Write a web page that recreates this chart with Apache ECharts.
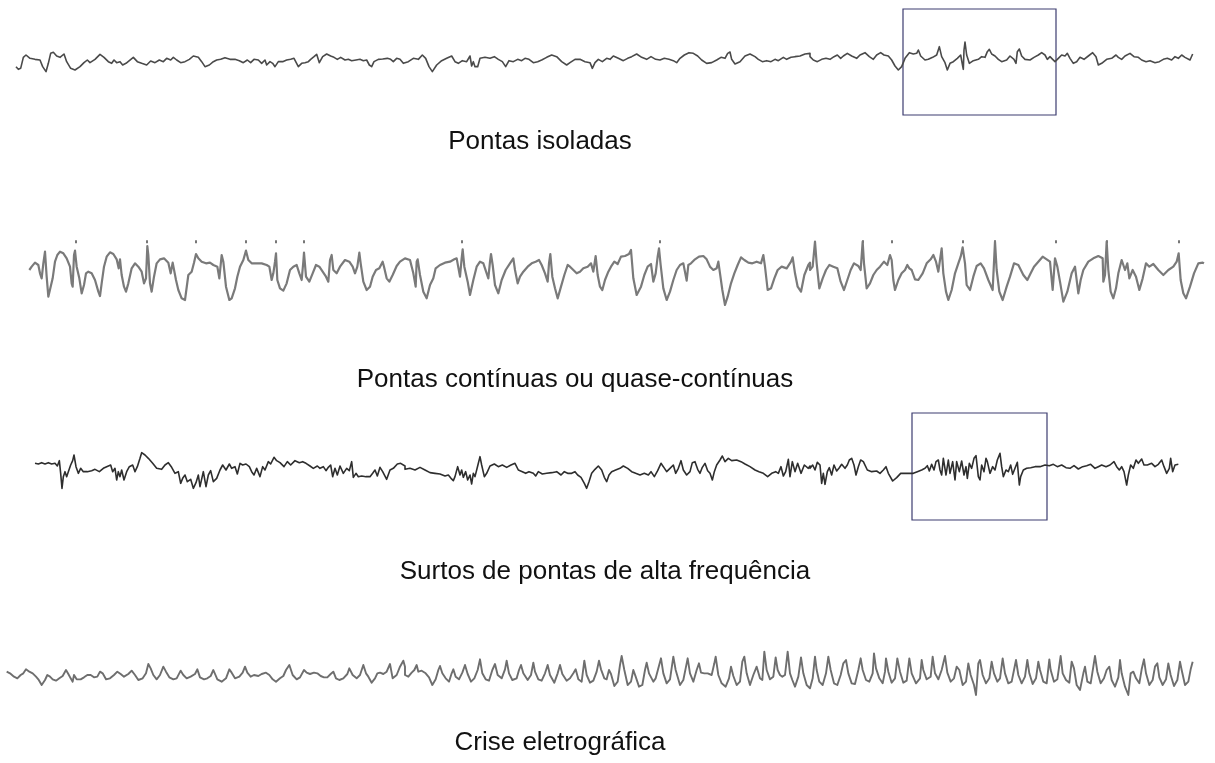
<!DOCTYPE html>
<html>
<head>
<meta charset="utf-8">
<script src="https://cdn.jsdelivr.net/npm/echarts@6/dist/echarts.min.js"></script>
<style>
  html, body { margin: 0; padding: 0; background: #fff; }
  #main { width: 1215px; height: 763px; }
</style>
</head>
<body>
<div id="main"></div>
<script>
// leituras [x, y] de cada trecho do traçado (x em 1/3 px do trecho, y para baixo)
const t1a = [[48,140],[55,148],[62,145],[70,112],[78,105],[90,115],[105,118],[120,120],[128,140],[138,155],[145,130],[152,100],[160,97],[170,108],[180,112],[192,102],[200,125],[212,145],[225,150],[240,140],[252,128],[262,120],[270,128],[285,118],[300,103],[312,112],[325,125],[335,130],[342,120],[350,128],[360,125],[368,135],[378,130],[388,122],[400,112],[412,125],[425,130],[440,135],[452,123],[465,128],[478,120],[490,125],[500,115],[512,120],[520,112],[530,120],[542,128],[555,125],[568,118],[580,108],[595,112],[605,125],[615,140],[628,135],[640,125],[650,120],[662,118],[675,113],[690,118],[705,118],[718,122],[730,128],[742,120],[752,128],[762,118],[775,120],[785,130],[795,120],[800,135],[810,125],[818,130],[825,140],[835,125],[848,125],[860,120],[872,118],[882,115],[895,140],[905,130],[915,128],[925,125],[932,118],[942,110],[950,103],[958,128],[968,110],[980,102],[992,108],[1002,112],[1012,118],[1022,112],[1035,120],[1045,118],[1055,122],[1068,120],[1080,118],[1090,122],[1100,120],[1108,135],[1115,140],[1122,125],[1135,118],[1148,117],[1162,115],[1172,118],[1180,125],[1190,115],[1200,118],[1210,130]];
const t1b = [[0,135],[10,125],[25,115],[40,118],[52,105],[62,115],[72,140],[82,155],[95,135],[110,122],[125,115],[140,108],[150,125],[160,130],[172,122],[185,125],[195,108],[200,138],[205,125],[210,140],[218,140],[225,115],[240,112],[255,115],[268,110],[280,118],[292,125],[302,140],[312,122],[325,125],[338,118],[350,122],[360,115],[372,118],[385,128],[398,125],[410,120],[425,112],[440,105],[455,110],[470,125],[485,135],[495,128],[510,118],[525,118],[540,125],[555,128],[562,145],[570,128],[580,118],[592,125],[605,115],[615,118],[625,108],[640,115],[655,122],[668,115],[680,110],[695,102],[710,112],[725,118],[738,110],[752,118],[765,120],[778,115],[792,118],[805,122],[815,128],[825,115],[838,105],[852,98],[865,100],[878,108],[890,120],[905,130],[920,128],[935,120],[948,112],[960,115],[968,100],[975,96],[980,118],[990,132],[1005,125],[1020,108],[1035,102],[1050,110],[1060,118],[1072,125],[1085,122],[1098,125],[1110,118],[1120,122],[1135,112],[1145,118],[1158,112],[1170,110],[1185,108],[1200,102],[1215,100]];
const t1c = [[0,170],[10,180],[22,185],[35,178],[48,175],[60,178],[72,170],[82,165],[92,175],[100,168],[112,160],[125,168],[140,175],[150,165],[165,158],[178,170],[190,178],[200,165],[212,158],[222,165],[235,168],[245,180],[255,198],[265,210],[275,200],[285,175],[298,158],[310,162],[320,160],[325,150],[332,168],[345,180],[355,178],[368,172],[380,165],[388,140],[395,170],[405,188],[412,210],[420,190],[430,185],[442,175],[452,165],[458,198],[460,208],[462,150],[465,126],[470,165],[478,190],[490,182],[505,178],[515,170],[525,172],[532,155],[538,148],[545,162],[555,168],[565,178],[575,185],[590,180],[600,168],[612,178],[618,190],[622,155],[628,147],[635,168],[645,178],[660,180],[672,172],[685,165],[695,158],[705,165],[712,178],[720,170],[728,178],[735,185],[745,175],[755,165],[765,168],[772,160],[780,175],[790,190],[800,185],[810,172],[822,178],[835,168],[848,158],[858,170],[865,195],[875,190],[890,178],[905,175],[918,165],[925,172],[935,178],[945,168],[960,160],[972,170],[985,172],[995,180],[1008,185],[1020,182],[1035,188],[1048,185],[1060,178],[1072,175],[1085,180],[1095,170],[1105,175],[1115,165],[1125,172],[1140,180],[1148,162]];

const t2a = [[88,150],[95,140],[105,128],[115,135],[120,160],[125,175],[130,130],[135,95],[140,170],[145,230],[150,225],[158,175],[165,125],[172,105],[180,95],[190,100],[200,115],[210,140],[215,190],[218,200],[222,105],[225,92],[230,140],[238,175],[245,220],[252,195],[258,160],[265,155],[275,160],[285,180],[295,215],[300,228],[305,190],[312,140],[320,110],[330,97],[340,102],[350,118],[356,145],[360,118],[365,165],[372,200],[378,215],[385,190],[395,145],[405,130],[415,140],[425,155],[432,190],[438,175],[442,78],[445,105],[450,190],[455,215],[462,170],[470,130],[480,118],[492,115],[505,128],[512,160],[518,128],[522,125],[528,180],[535,210],[545,235],[555,240],[565,165],[575,155],[582,128],[588,102],[595,115],[605,125],[618,130],[630,128],[640,135],[652,140],[658,175],[665,105],[670,125],[678,200],[688,240],[695,235],[705,205],[712,170],[720,140],[730,120],[738,92],[745,120],[755,130],[770,130],[785,130],[800,135],[808,140],[815,180],[820,160],[825,125],[828,100],[832,180],[840,205],[850,212],[860,190],[870,150],[880,140],[890,135],[898,160],[905,180],[910,125],[912,98],[918,170],[928,185],[938,160],[948,135],[958,140],[968,155],[978,170],[985,185],[990,120],[995,105],[1000,150],[1010,160],[1020,140],[1035,120],[1048,125],[1058,140],[1065,160],[1072,140],[1078,98],[1082,130],[1090,185],[1100,210],[1110,200],[1118,170],[1128,150],[1138,145],[1148,125],[1152,140],[1160,175],[1168,185],[1178,165],[1190,138],[1200,125],[1215,115]];
const t2b = [[0,118],[15,120],[25,160],[32,200],[35,125],[38,118],[45,165],[55,215],[65,235],[75,195],[85,175],[92,145],[105,135],[120,128],[135,125],[148,118],[155,115],[165,170],[170,115],[173,88],[178,140],[188,185],[195,225],[205,180],[215,140],[225,125],[235,130],[245,160],[250,175],[255,125],[258,102],[263,135],[270,195],[280,220],[290,180],[302,150],[315,130],[325,115],[330,150],[338,190],[345,170],[355,155],[368,140],[380,130],[392,125],[402,120],[410,135],[420,160],[428,185],[432,130],[436,102],[442,170],[450,205],[458,235],[468,200],[478,165],[488,135],[495,140],[505,150],[515,160],[525,155],[535,145],[548,140],[558,130],[565,155],[572,108],[578,165],[585,200],[592,210],[600,180],[610,155],[618,140],[628,125],[638,132],[648,110],[660,108],[672,102],[678,90],[685,175],[695,225],[708,200],[718,165],[728,140],[738,132],[745,185],[752,160],[758,110],[762,85],[767,135],[775,205],[785,240],[795,215],[805,180],[815,150],[825,135],[835,130],[845,182],[850,135],[858,130],[870,118],[882,110],[895,108],[905,118],[915,140],[925,150],[935,145],[940,125],[945,160],[952,210],[960,255],[968,230],[978,190],[988,160],[998,135],[1008,112],[1018,120],[1030,128],[1042,130],[1055,125],[1068,130],[1075,105],[1080,140],[1088,210],[1098,205],[1108,175],[1118,150],[1130,140],[1145,145],[1158,125],[1163,112],[1170,160],[1178,200],[1188,215],[1198,165],[1210,135],[1215,128]];
const t2c = [[0,150],[8,140],[15,65],[20,130],[28,205],[38,175],[48,150],[58,135],[70,140],[82,145],[92,185],[102,210],[112,180],[122,150],[132,130],[145,138],[152,150],[158,65],[162,130],[170,205],[180,190],[190,165],[200,150],[210,140],[222,125],[232,135],[240,105],[245,120],[250,180],[255,210],[265,180],[275,160],[285,150],[292,135],[298,145],[305,150],[315,178],[325,180],[338,160],[350,130],[362,118],[370,105],[378,125],[385,155],[395,85],[400,160],[408,215],[415,240],[425,210],[435,160],[445,130],[452,110],[458,82],[465,130],[470,195],[480,210],[490,170],[500,138],[512,130],[522,145],[535,180],[548,210],[555,65],[560,150],[568,215],[578,240],[590,200],[600,170],[612,130],[625,135],[640,165],[652,180],[662,160],[672,140],[685,125],[698,110],[710,118],[720,125],[728,210],[735,115],[742,140],[750,185],[760,245],[772,215],[785,160],[795,140],[805,220],[812,180],[820,150],[835,125],[850,115],[865,108],[878,115],[880,185],[885,165],[890,65],[895,150],[902,215],[910,235],[918,205],[925,160],[935,120],[945,150],[952,130],[958,175],[968,150],[978,170],[988,210],[998,175],[1008,130],[1018,140],[1030,132],[1045,150],[1060,165],[1075,150],[1090,140],[1100,125],[1106,100],[1112,180],[1120,220],[1128,235],[1140,200],[1152,160],[1165,130],[1178,128],[1182,130]];

const t3a = [[105,70],[115,72],[125,68],[135,72],[145,68],[155,72],[165,70],[172,78],[178,62],[182,100],[186,145],[190,110],[195,95],[200,110],[205,95],[212,75],[218,62],[222,45],[228,80],[235,100],[242,85],[250,95],[262,95],[275,92],[285,88],[298,95],[310,85],[320,80],[332,75],[338,95],[345,85],[350,120],[355,95],[360,110],[365,90],[372,120],[380,95],[388,80],[398,75],[405,95],[412,80],[420,55],[425,38],[435,45],[445,55],[458,70],[470,85],[485,88],[495,75],[505,68],[515,82],[525,100],[535,95],[542,130],[548,115],[555,105],[562,125],[572,118],[580,145],[588,128],[595,105],[600,140],[610,95],[618,140],[625,105],[632,92],[640,125],[650,115],[660,90],[668,75],[678,90],[688,72],[695,85],[705,80],[712,102],[720,70],[728,75],[738,72],[748,80],[755,95],[762,105],[770,85],[780,110],[788,80],[795,90],[805,65],[812,72],[822,52],[830,62],[840,68],[852,80],[862,65],[872,75],[885,62],[898,68],[908,65],[918,70],[930,78],[940,85],[952,78],[960,85],[970,80],[978,92],[985,82],[992,75],[998,110],[1005,85],[1012,105],[1020,78],[1030,100],[1040,85],[1048,92],[1055,65],[1060,112],[1068,100],[1075,110],[1085,108],[1098,110],[1110,110],[1118,100],[1125,90],[1132,108],[1140,82],[1148,95],[1160,118],[1170,90],[1180,85],[1192,72],[1202,70],[1215,78]];
const t3b = [[0,88],[15,85],[30,90],[45,82],[60,90],[75,98],[90,100],[105,102],[120,108],[130,105],[138,115],[145,122],[150,110],[158,80],[165,105],[170,90],[175,112],[182,95],[188,120],[195,105],[200,132],[205,100],[210,110],[218,78],[225,50],[230,75],[238,110],[245,100],[255,78],[268,72],[280,80],[292,75],[305,82],[318,75],[330,70],[340,90],[352,95],[362,100],[372,95],[385,100],[392,108],[400,95],[412,102],[425,100],[440,98],[455,95],[468,105],[478,95],[488,100],[500,100],[510,95],[518,105],[528,112],[538,130],[545,145],[552,125],[560,100],[570,88],[580,78],[590,90],[598,112],[605,125],[612,105],[620,95],[632,90],[645,85],[655,78],[668,85],[680,95],[692,100],[705,105],[718,100],[730,105],[738,95],[748,110],[758,92],[768,70],[775,80],[785,95],[795,85],[805,75],[812,100],[820,85],[828,62],[835,90],[845,105],[855,95],[862,68],[870,65],[878,88],[885,100],[892,82],[900,70],[908,92],[915,100],[922,120],[928,95],[935,75],[945,60],[952,48],[960,65],[970,55],[980,62],[995,60],[1008,65],[1020,72],[1035,80],[1050,90],[1062,95],[1075,100],[1088,110],[1100,100],[1112,95],[1120,100],[1128,80],[1135,108],[1142,95],[1150,58],[1155,110],[1162,65],[1170,95],[1178,70],[1188,100],[1198,75],[1210,85],[1215,78]];
const t3c = [[0,190],[8,180],[15,195],[22,172],[30,180],[35,235],[40,205],[45,238],[52,200],[58,188],[65,210],[72,180],[80,198],[88,188],[95,178],[105,190],[112,180],[118,165],[125,160],[132,180],[138,210],[145,185],[152,165],[160,170],[172,195],[185,200],[200,198],[210,205],[220,195],[228,185],[235,205],[248,228],[260,218],[272,205],[285,205],[298,205],[310,205],[322,200],[335,195],[345,190],[352,182],[358,198],[365,178],[372,195],[378,170],[385,165],[390,195],[395,210],[400,160],[408,210],[415,165],[420,205],[428,170],[435,225],[440,170],[448,200],[455,168],[462,210],[468,185],[472,220],[478,175],[485,190],[492,160],[498,152],[505,215],[510,225],[515,180],[522,200],[528,160],[532,170],[540,205],[548,185],[555,195],[562,165],[570,145],[575,185],[580,215],[588,195],[595,200],[602,180],[608,208],[615,190],[622,172],[628,240],[632,215],[640,195],[650,190],[662,188],[675,185],[690,185],[705,180],[718,182],[730,178],[742,185],[755,180],[768,188],[780,190],[792,182],[805,192],[818,185],[830,182],[842,178],[855,190],[865,185],[875,180],[888,185],[900,180],[912,170],[920,185],[928,195],[935,185],[942,200],[950,240],[955,210],[962,180],[970,190],[978,165],[985,175],[995,162],[1002,180],[1012,180],[1025,175],[1035,185],[1045,178],[1055,165],[1062,185],[1070,205],[1078,190],[1082,160],[1088,200],[1095,180],[1105,178]];

const t4a = [[20,155],[30,160],[42,170],[52,175],[62,165],[70,160],[78,148],[88,155],[98,160],[108,170],[115,178],[125,195],[135,180],[142,165],[150,170],[158,178],[168,182],[178,175],[188,168],[198,150],[205,162],[212,175],[218,185],[222,165],[230,178],[242,178],[252,172],[262,165],[272,165],[282,172],[292,170],[300,155],[308,160],[318,178],[330,175],[342,165],[352,155],[362,162],[372,170],[385,162],[395,152],[405,165],[415,180],[428,175],[438,160],[445,132],[452,145],[460,165],[470,178],[480,165],[490,140],[498,155],[508,172],[520,178],[530,175],[542,152],[550,165],[560,175],[572,170],[585,162],[592,148],[600,172],[612,178],[622,175],[632,168],[640,150],[652,178],[665,185],[678,175],[688,148],[695,158],[705,175],[718,170],[728,158],[735,140],[742,158],[752,170],[762,165],[775,168],[785,162],[798,158],[808,165],[818,178],[828,185],[840,175],[850,168],[858,150],[868,135],[878,165],[890,178],[900,172],[912,150],[920,158],[930,162],[942,158],[952,160],[962,168],[972,172],[982,172],[992,162],[1000,155],[1008,175],[1018,180],[1030,175],[1042,162],[1048,145],[1058,165],[1070,175],[1080,165],[1090,135],[1098,160],[1105,170],[1115,188],[1125,175],[1132,160],[1140,158],[1150,162],[1160,155],[1170,132],[1178,175],[1190,165],[1200,140],[1210,122],[1215,140]];
const t4b = [[0,165],[10,170],[20,158],[28,150],[35,135],[40,155],[50,152],[62,160],[72,172],[82,195],[92,178],[100,150],[105,138],[112,160],[122,175],[132,185],[140,160],[145,148],[152,170],[162,178],[172,158],[180,135],[188,162],[198,185],[208,175],[218,150],[225,118],[232,160],[242,178],[252,182],[262,150],[270,132],[278,165],[290,175],[300,148],[305,122],[312,160],[322,180],[335,175],[342,150],[348,135],[355,160],[368,180],[378,165],[385,128],[390,155],[400,178],[410,182],[420,160],[428,135],[435,165],[448,188],[458,160],[465,135],[472,162],[485,182],[495,175],[505,160],[512,148],[520,178],[530,185],[538,122],[545,165],[555,188],[565,182],[575,155],[582,122],[588,148],[598,175],[605,178],[612,150],[618,162],[628,198],[638,185],[645,135],[650,108],[658,150],[668,195],[678,185],[685,150],[692,170],[702,200],[712,195],[720,150],[725,128],[732,160],[745,185],[752,175],[760,145],[768,115],[775,160],[785,190],[795,178],[805,110],[812,150],[825,195],[835,180],[842,145],[848,115],[855,160],[865,185],[875,150],[882,130],[888,158],[898,160],[908,160],[920,165],[928,130],[932,110],[940,165],[950,190],[962,200],[972,175],[978,140],[985,168],[995,195],[1005,185],[1012,125],[1018,110],[1025,160],[1035,195],[1045,165],[1055,140],[1065,175],[1072,180],[1078,95],[1085,150],[1095,178],[1105,170],[1112,112],[1118,150],[1125,165],[1132,170],[1140,165],[1148,95],[1155,160],[1162,180],[1170,200],[1180,170],[1188,112],[1195,160],[1205,195],[1215,205]];
const t4c = [[0,205],[8,175],[15,110],[20,150],[28,185],[38,195],[48,160],[55,110],[62,150],[72,190],[82,195],[92,165],[100,130],[108,120],[115,160],[125,190],[135,192],[145,150],[152,115],[158,150],[168,180],[178,185],[188,160],[192,100],[198,145],[208,175],[218,190],[225,155],[228,115],[235,155],[245,188],[255,175],[262,115],[270,155],[280,188],[290,182],[298,115],[305,160],[318,190],[330,175],[335,120],[340,150],[350,178],[362,170],[368,110],[375,160],[385,178],[395,150],[405,108],[412,158],[422,185],[432,175],[440,140],[448,150],[458,195],[468,185],[475,130],[482,165],[492,195],[498,225],[505,130],[510,120],[518,165],[528,190],[538,175],[545,125],[552,160],[562,185],[570,175],[578,115],[585,160],[595,190],[605,185],[612,150],[618,120],[625,165],[635,190],[645,170],[652,120],[658,160],[668,192],[678,175],[685,125],[690,150],[700,185],[710,190],[718,118],[722,150],[732,185],[742,178],[752,108],[758,160],[768,180],[778,188],[785,125],[792,145],[800,195],[810,210],[820,160],[825,140],[832,185],[842,190],[850,140],[855,108],[862,155],[872,190],[882,175],[890,150],[898,140],[905,180],[915,200],[925,172],[930,120],[935,160],[945,200],[955,225],[962,160],[970,155],[978,175],[988,190],[995,148],[1002,118],[1008,160],[1018,195],[1028,180],[1035,140],[1042,130],[1048,172],[1058,195],[1068,178],[1075,130],[1082,165],[1092,198],[1102,180],[1110,125],[1115,150],[1125,195],[1135,185],[1142,148],[1148,125]];

// marcas pequenas acima das pontas do segundo traçado [tempo, amplitude]
const marcas2 = [[76,85],[147,85],[196,85],[246,85],[276,85],[304,85],[462,85],[660,85],[863,85],[892,85],[963,85],[995,85],[1056,85],[1107,85],[1179,85]];

// janelas destacadas [[t0, topo], [t1, base]]
const caixa1 = [[903,153],[1056,-165]];
const caixa3 = [[912,162],[1047,-159]];

const rotulos = ['Pontas isoladas', 'Pontas contínuas ou quase-contínuas', 'Surtos de pontas de alta frequência', 'Crise eletrográfica'];

// converte leitura do trecho em [tempo, amplitude]
const ler = (leituras, inicio, base) => leituras.map(p => [inicio + p[0] / 3, base - p[1]]);

const traco1 = [].concat(ler(t1a, 0, 120), ler(t1b, 405, 120), ler(t1c, 810, 180));
const traco2 = [].concat(ler(t2a, 0, 150), ler(t2b, 405, 150), ler(t2c, 810, 150));
const traco3 = [].concat(ler(t3a, 0, 81), ler(t3b, 405, 81), ler(t3c, 810, 186));
const traco4 = [].concat(ler(t4a, 0, 156), ler(t4b, 405, 156), ler(t4c, 810, 156));

const chart = echarts.init(document.getElementById('main'));

const tops = [0, 210, 407, 612];
const grids = tops.map(t => ({ left: 0, right: 0, top: t, height: 120 }));
const xAxes = tops.map((t, i) => ({ type: 'value', gridIndex: i, min: 0, max: 1215, show: false }));
const yAxes = tops.map((t, i) => ({ type: 'value', gridIndex: i, min: -180, max: 180, show: false }));

const boxStyle = { color: 'rgba(0,0,0,0)', borderColor: '#3d3d70', borderWidth: 1.2 };

const lineSeries = (data, i, color, width, extra) => Object.assign({
  type: 'line',
  xAxisIndex: i,
  yAxisIndex: i,
  data: data,
  showSymbol: false,
  smooth: false,
  silent: true,
  clip: false,
  lineStyle: { color: color, width: width, join: 'round' }
}, extra || {});

const rotuloY = [142, 380, 572, 743];
const rotuloX = [540, 575, 605, 560];

const option = {
  animation: false,
  backgroundColor: '#ffffff',
  grid: grids,
  xAxis: xAxes,
  yAxis: yAxes,
  series: [
    lineSeries(traco1, 0, '#4a4a4a', 1.6, {
      markArea: { silent: true, itemStyle: boxStyle, data: [[{ coord: caixa1[0] }, { coord: caixa1[1] }]] }
    }),
    lineSeries(traco2, 1, '#7a7a7a', 2.2),
    {
      type: 'scatter', xAxisIndex: 1, yAxisIndex: 1, data: marcas2,
      symbol: 'rect', symbolSize: [2, 3], itemStyle: { color: '#555' }, silent: true
    },
    lineSeries(traco3, 2, '#2e2e2e', 1.6, {
      markArea: { silent: true, itemStyle: boxStyle, data: [[{ coord: caixa3[0] }, { coord: caixa3[1] }]] }
    }),
    lineSeries(traco4, 3, '#6e6e6e', 1.9)
  ],
  graphic: rotulos.map((txt, i) => ({
    type: 'text',
    x: rotuloX[i],
    y: rotuloY[i],
    style: {
      text: txt,
      fill: '#111',
      font: '26px "Liberation Sans", Arial, sans-serif',
      textAlign: 'center',
      textVerticalAlign: 'middle'
    }
  }))
};

chart.setOption(option);
</script>
</body>
</html>
